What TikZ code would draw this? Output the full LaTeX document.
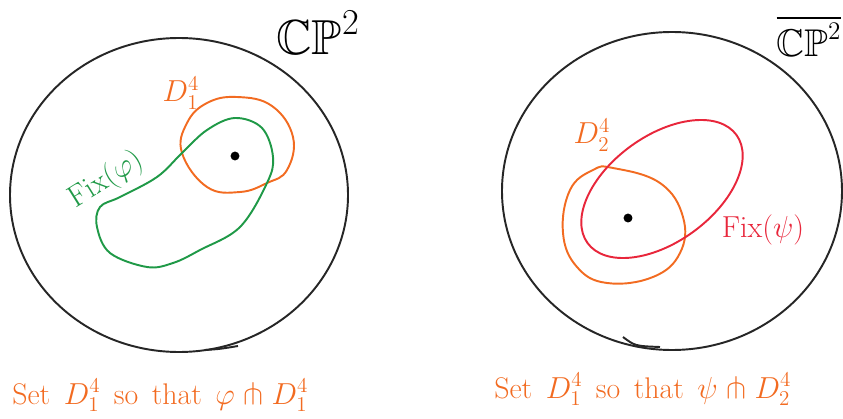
\documentclass[tikz,border=0pt]{standalone}
\usepackage{amsmath,amssymb}
\usepackage{xcolor}
\usepackage{tikz}
\usetikzlibrary{positioning,calc}
\definecolor{skorange}{rgb}{0.95,0.42,0.13}
\definecolor{skgreen}{rgb}{0.12,0.60,0.28}
\definecolor{skred}{rgb}{0.91,0.15,0.23}
\newcommand{\wsp}{\hspace{0.45em}}

\begin{document}
\begin{tikzpicture}[
  x=0.02cm, y=-0.02cm,
  rim/.style={line width=1.1pt, black!85},
  disc/.style={line width=1.1pt, skorange},
  fixset/.style={line width=1.1pt},
  dot/.style={circle, fill=black, inner sep=1.8pt},
  lbl/.style={inner sep=0pt, font=\fontsize{17}{19}\selectfont}
]
\useasboundingbox (0,0) rectangle (843,419);

% left picture: CP^2 with the disc D_1 and Fix(phi)
\draw[rim] (179,195) ellipse [x radius=169, y radius=157];
\draw[rim] (205,350) .. controls (220,349) .. (238,346);
\node[inner sep=0pt, font=\fontsize{28}{30}\selectfont] (cp) at (318,33) {$\mathbb{CP}^2$};

\draw[disc] plot[smooth cycle, tension=0.7] coordinates {
  (237,97) (272,106) (293,137) (287,170) (267,183) (240,192)
  (207,187) (182,153) (187,123) (207,103)};
\draw[fixset, skgreen] plot[smooth cycle, tension=0.6] coordinates {
  (235,118) (262,128) (273,157) (267,183) (240,227) (200,250)
  (173,263) (147,267) (110,253) (97,227) (100,207) (120,197)
  (157,177) (182,153) (207,130)};
\node[dot] (p1) at (235,156) {};
\node[lbl, skorange] (d1) at (181,93) {$D^4_1$};
\node[lbl, skgreen, rotate=32] (fix1) at (106,180) {$\mathrm{Fix}(\varphi)$};

% right picture: CP^2-bar with the disc D_2 and Fix(psi)
\draw[rim] (672,191) ellipse [x radius=170, y radius=159];
\draw[rim] (623,337) .. controls (635,346) .. (660,347);
\node[inner sep=0pt, font=\fontsize{22}{24}\selectfont] (cpbar) at (809,36) {$\overline{\mathbb{CP}^2}$};

\draw[disc] plot[smooth cycle, tension=0.7] coordinates {
  (613,168) (660,183) (683,217) (680,253) (653,277) (607,283)
  (577,267) (563,233) (570,190) (593,170)};
\draw[fixset, skred, rotate around={36:(662,189)}] (662,189) ellipse [x radius=92, y radius=53];
\node[dot] (p2) at (628,218) {};
\node[lbl, skorange] (d2) at (592,135) {$D^4_2$};
\node[lbl, skred] (fix2) at (763,230) {$\mathrm{Fix}(\psi)$};

% captions
\node[lbl, skorange, anchor=base west] (cap1) at (12,404)
  {Set\wsp$D^4_1$\wsp so\wsp that\wsp$\varphi \pitchfork D^4_1$};
\node[lbl, skorange, anchor=base west] (cap2) at (494,398)
  {Set\wsp$D^4_1$\wsp so\wsp that\wsp$\psi \pitchfork D^4_2$};
\end{tikzpicture}
\end{document}
